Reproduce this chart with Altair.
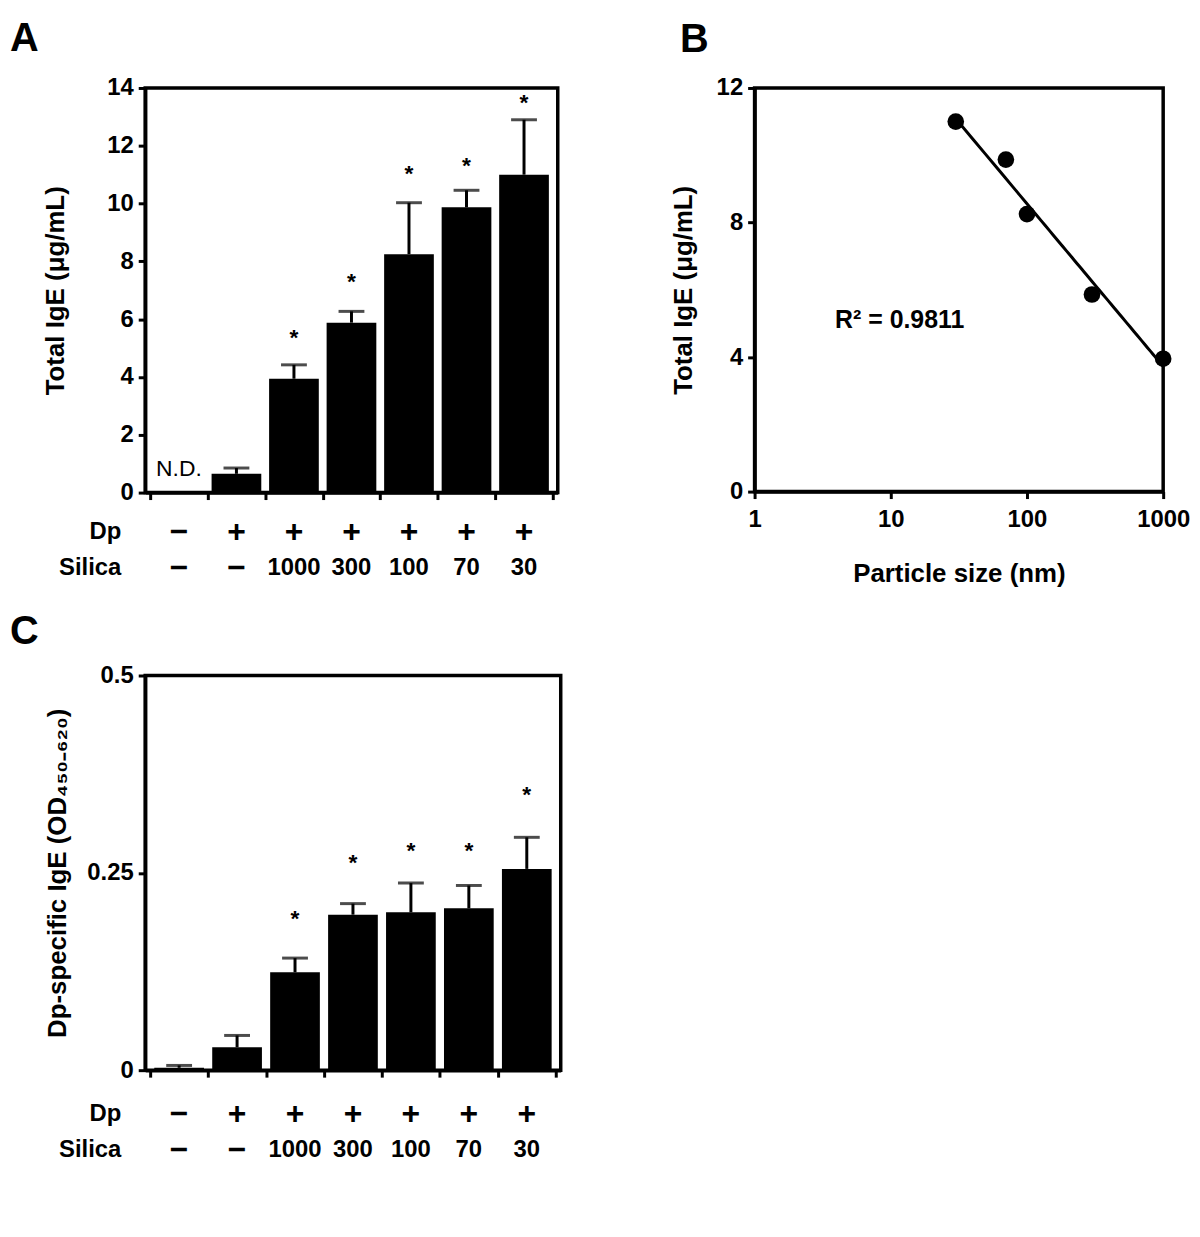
import altair as alt
import pandas as pd

FONT = "Liberation Sans, Arial, Helvetica, sans-serif"

# ---------------- data ----------------
dp_signs = ["\u2212", "+", "+", "+", "+", "+", "+"]
silica_labels = ["\u2212", "\u2212", "1000", "300", "100", "70", "30"]
row_headers = ["Dp", "Silica"]

# Panel A: total IgE (ug/mL)
a_mean = [None, 0.65, 3.94, 5.88, 8.25, 9.87, 11.0]
a_sem = [None, 0.20, 0.48, 0.39, 1.78, 0.59, 1.90]
a_star = [None, None, 5.41, 7.35, 11.08, 11.36, 13.56]
a_note = "N.D."

# Panel B: total IgE vs particle size
b_size = [30, 70, 100, 300, 1000]
b_ige = [11.0, 9.87, 8.25, 5.86, 3.95]
b_r2 = "R\u00b2 = 0.9811"

# Panel C: Dp-specific IgE (OD450-620)
c_mean = [0.003, 0.029, 0.124, 0.197, 0.200, 0.205, 0.255]
c_sem = [0.003, 0.015, 0.018, 0.014, 0.037, 0.029, 0.040]
c_star = [None, None, 0.194, 0.265, 0.280, 0.280, 0.351]

panel_letters = ["A", "B", "C"]


def txt(df, **kw):
    base = dict(font=FONT, fontWeight="bold", fontSize=24, color="black")
    base.update(kw)
    return alt.Chart(df).mark_text(**base)


def bar_panel(mean, sem, star, ymax, yvals, ytitle, w, h, letter, title_pad,
              note=None, row1=40, row2=76, label_y=-69):
    df = pd.DataFrame({
        "idx": list(range(7)), "mean": mean, "sem": sem, "star": star,
        "dp": dp_signs, "silica": silica_labels,
    })
    base = alt.Chart(df).transform_calculate(
        pos="datum.idx + 0.5", top="datum.mean + datum.sem"
    )
    x = alt.X("pos:Q",
              scale=alt.Scale(domain=[0, 7], nice=False, zero=False),
              axis=alt.Axis(values=list(range(8)), labels=False, title=None,
                            tickSize=7, grid=False))
    y = alt.Y("mean:Q",
              scale=alt.Scale(domain=[0, ymax], nice=False),
              axis=alt.Axis(values=yvals, title=ytitle, format="~g",
                            titlePadding=title_pad, grid=False))
    bars = base.transform_filter("datum.mean != null").mark_bar(
        width=50, color="black").encode(x=x, y=y)
    err = base.transform_filter("datum.mean != null").mark_rule(
        strokeWidth=3, color="black").encode(x="pos:Q", y="mean:Q", y2="top:Q")
    cap = base.transform_filter("datum.mean != null").mark_tick(
        orient="horizontal", size=26, thickness=3, color="black").encode(
        x="pos:Q", y="top:Q")
    stars = base.transform_filter("datum.star != null").mark_text(
        text="*", font=FONT, fontSize=23, fontWeight="bold", color="black",
        baseline="middle", dy=2).encode(x="pos:Q", y="star:Q")
    dp_row = base.mark_text(font=FONT, fontSize=32, fontWeight="bold",
                            color="black", baseline="middle").encode(
        x="pos:Q", y=alt.value(h + row1), text="dp:N")
    si_row = base.mark_text(font=FONT, fontWeight="bold", color="black",
                            baseline="middle").encode(
        x="pos:Q", y=alt.value(h + row2), text="silica:N",
        size=alt.condition("datum.silica == '\u2212'", alt.value(32), alt.value(24)))
    hdr1 = txt(pd.DataFrame({"t": [row_headers[0]]}), align="right",
               baseline="middle").encode(x=alt.value(-24), y=alt.value(h + row1), text="t:N")
    hdr2 = txt(pd.DataFrame({"t": [row_headers[1]]}), align="right",
               baseline="middle").encode(x=alt.value(-24), y=alt.value(h + row2), text="t:N")
    lab = txt(pd.DataFrame({"t": [letter]}), fontSize=40, align="left",
              baseline="top").encode(x=alt.value(-136), y=alt.value(label_y), text="t:N")
    layers = [bars, err, cap, stars, dp_row, si_row, hdr1, hdr2, lab]
    if note is not None:
        nd = alt.Chart(pd.DataFrame({"pos": [0.5], "t": [note]})).mark_text(
            font=FONT, fontSize=23, fontWeight="normal", color="black",
            baseline="middle").encode(x="pos:Q", y=alt.datum(0.8), text="t:N")
        layers.append(nd)
    return alt.layer(*layers).properties(width=w, height=h)


panel_a = bar_panel(a_mean, a_sem, a_star, 14, [0, 2, 4, 6, 8, 10, 12, 14],
                    "Total IgE (\u03bcg/mL)", 415, 407, panel_letters[0], 38,
                    note=a_note)

panel_c = bar_panel(c_mean, c_sem, c_star, 0.5, [0, 0.25, 0.5],
                    "Dp-specific IgE (OD\u2084\u2085\u2080\u208b\u2086\u2082\u2080)",
                    418, 397, panel_letters[2], 16, row1=44, row2=80, label_y=-64)

# Panel B
bdf = pd.DataFrame({"size": b_size, "ige": b_ige})
bx = alt.X("size:Q",
           scale=alt.Scale(type="log", domain=[1, 1000], nice=False),
           axis=alt.Axis(values=[1, 10, 100, 1000], format="d",
                         title="Particle size (nm)", titlePadding=29,
                         labelPadding=9, labelFlush=False,
                         tickSize=7, grid=False))
by = alt.Y("ige:Q",
           scale=alt.Scale(domain=[0, 12], nice=False),
           axis=alt.Axis(values=[0, 4, 8, 12], title="Total IgE (\u03bcg/mL)",
                         titlePadding=20, labelFlush=False, grid=False))
bbase = alt.Chart(bdf)
pts = bbase.mark_circle(size=280, color="black", opacity=1).encode(x=bx, y=by)
fit = bbase.transform_regression("size", "ige", method="log",
                                 extent=[30, 1000]).mark_line(
    color="black", strokeWidth=3).encode(x="size:Q", y="ige:Q")
r2 = txt(pd.DataFrame({"t": [b_r2]}), align="left", baseline="middle",
         fontSize=25).encode(x=alt.value(81), y=alt.value(233), text="t:N")
labB = txt(pd.DataFrame({"t": [panel_letters[1]]}), fontSize=40, align="left",
           baseline="top").encode(x=alt.value(-75), y=alt.value(-68), text="t:N")
panel_b = alt.layer(fit, pts, r2, labB).properties(width=411, height=406)

chart = alt.vconcat(
    alt.hconcat(panel_a, panel_b, spacing=109),
    panel_c,
    spacing=22,
).properties(
    padding={"left": 0, "top": 6, "right": 0, "bottom": 5},
    background="white",
).configure_view(
    stroke="black", strokeWidth=3.5
).configure_axis(
    domainColor="black", domainWidth=3.5, tickColor="black", tickWidth=3,
    tickSize=7, labelFont=FONT, labelFontSize=24, labelFontWeight="bold",
    labelColor="black", labelPadding=5, labelFlush=False, titleFont=FONT,
    titleFontSize=26, titleFontWeight="bold", titleColor="black",
)

chart.save("out.html", embed_options={"renderer": "svg", "actions": False})
